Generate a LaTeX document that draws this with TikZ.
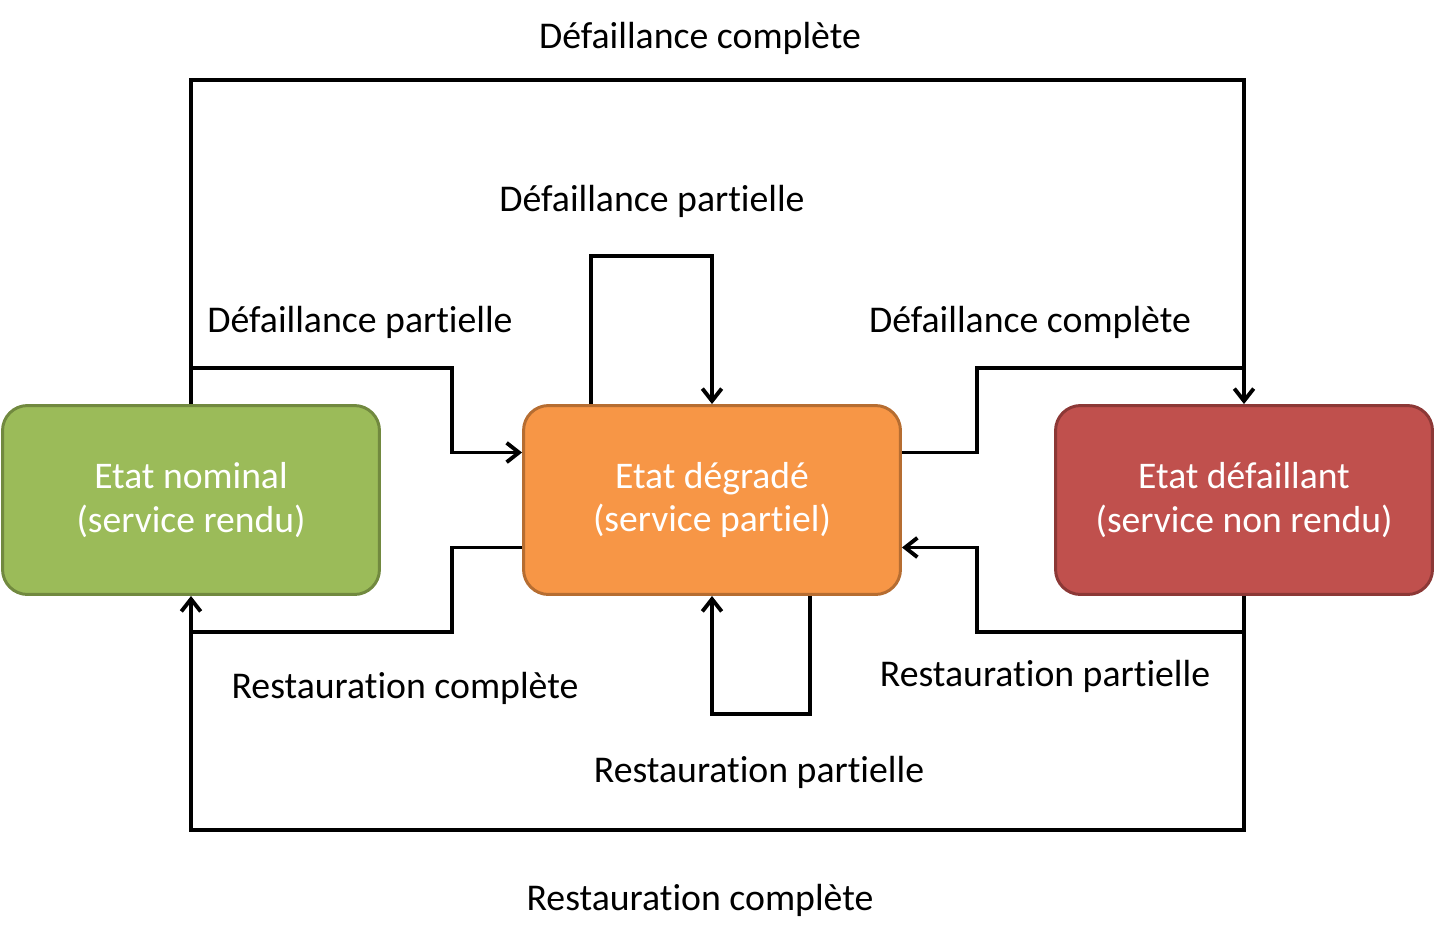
\documentclass[tikz,border=0pt]{standalone}
\usepackage{fontspec}
\setmainfont{Carlito}[Ligatures = NoCommon]
\usepackage{tikz}
\usetikzlibrary{arrows.meta}
\definecolor{vert}{HTML}{9BBB59}
\definecolor{vertbord}{HTML}{71893F}
\definecolor{orange}{HTML}{F79646}
\definecolor{orangebord}{HTML}{B66D31}
\definecolor{rouge}{HTML}{C0504D}
\definecolor{rougebord}{HTML}{8C3836}

\begin{document}
\begin{tikzpicture}[x = 0.02cm, y = -0.02cm]
\tikzstyle{box}=[rounded corners = 0.5cm, minimum width = 7.54cm, minimum height = 3.78cm, line width = 1.7pt, text = white, align = center, font = \fontsize{21.4}{25}\selectfont]
\tikzstyle{arrow}=[->, >={Straight Barb[length=7pt, width=11pt]}, line width = 2.2pt]
\tikzstyle{line}=[line width = 2.2pt]
\tikzstyle{lbl}=[font = \fontsize{21.5}{25}\selectfont]
\useasboundingbox (0,0) rectangle (1435,943);
% etats
\node (N) [box, fill = vert, draw = vertbord]     at (191, 500) {Etat nominal\\(service rendu)};
\node (G) [box, fill = orange, draw = orangebord] at (712, 500) {Etat dégradé\\(service partiel)};
\node (R) [box, fill = rouge, draw = rougebord]   at (1244, 500) {Etat défaillant\\(service non rendu)};
% niveaux des coudes
\coordinate (top) at (0, 80);
\coordinate (hi)  at (0, 368);
\coordinate (lo)  at (0, 632);
\coordinate (bot) at (0, 830);
\coordinate (xl)  at (452, 0);
\coordinate (xr)  at (977, 0);
\coordinate (gin)  at ([yshift = 0.95cm]G.west);
\coordinate (gout) at ([yshift = -0.95cm]G.west);
\coordinate (din)  at ([yshift = -0.95cm]G.east);
\coordinate (dout) at ([yshift = 0.95cm]G.east);
% transitions
\draw [arrow] (N.north) -- (N.north |- top) -| (R.north);
\draw [arrow] (N.north |- hi) -| (xl |- gin) -- (gin);
\draw [arrow] ([xshift = -2.42cm]G.north) -- ++(0, -148) -| (G.north);
\draw [line]  (dout) -| (xr |- hi) -- (R.north |- hi);
\draw [arrow] (R.south) -- (R.south |- lo) -| (xr |- din) -- (din);
\draw [arrow] (R.south) -- (R.south |- bot) -| (N.south);
\draw [line]  (gout) -| (xl |- lo) -- (N.south |- lo);
\draw [arrow] ([xshift = 1.96cm]G.south) -- ++(0, 118) -| (G.south);
% etiquettes
\node (l1) [lbl] at (700, 38)  {Défaillance complète};
\node (l2) [lbl] at (652, 201) {Défaillance partielle};
\node (l3) [lbl] at (360, 322) {Défaillance partielle};
\node (l4) [lbl] at (1030, 322) {Défaillance complète};
\node (l5) [lbl] at (405, 688) {Restauration complète};
\node (l6) [lbl] at (1045, 676) {Restauration partielle};
\node (l7) [lbl] at (759, 772) {Restauration partielle};
\node (l8) [lbl] at (700, 900) {Restauration complète};
\end{tikzpicture}
\end{document}
